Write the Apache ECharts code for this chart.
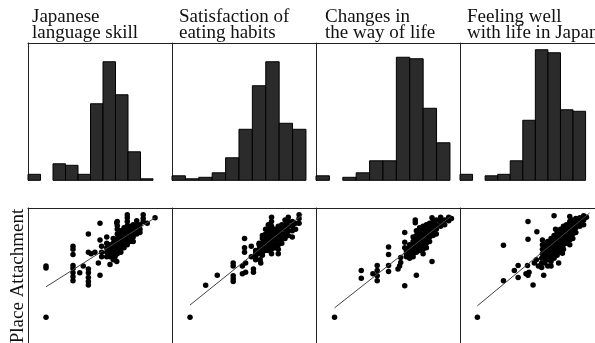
<!DOCTYPE html>
<html>
<head>
<meta charset="utf-8">
<script src="https://cdn.jsdelivr.net/npm/echarts@6/dist/echarts.min.js"></script>
<style>
html,body{margin:0;padding:0;background:#fff;}
#chart{width:595px;height:343px;}
</style>
</head>
<body>
<div id="chart"></div>
<script>
// ---- Data ----
const panelTitles = ['Japanese\nlanguage skill', 'Satisfaction of\neating habits', 'Changes in\nthe way of life', 'Feeling well\nwith life in Japan'];
const yLabel = 'Place Attachment';

// histogram counts per bin
const skillCounts = [4, 0, 11, 10, 4, 51, 79, 57, 19, 1];
const eatingCounts = [3, 1, 2, 5, 15, 34, 63, 79, 38, 34];
const changesCounts = [3, 0, 2, 5, 13, 13, 82, 81, 48, 25];
const feelingCounts = [4, 0, 3, 4, 13, 40, 87, 85, 47, 46];

// scatter: [variable score, place attachment]
const skillPoints = [
[1.0,1.0],[1.0,3.0],[1.0,2.92],
[2.0,3.77],[2.0,3.65],[2.0,3.45],[2.0,3.02],[2.0,2.9],[2.0,2.74],[2.0,2.58],[2.0,2.43],
[2.25,2.74],[2.38,3.0],
[2.57,4.25],[2.57,3.54],[2.57,2.88],[2.57,2.74],[2.57,2.55],[2.57,2.4],[2.57,2.26],
[2.67,3.48],[2.81,3.54],[2.94,3.12],
[3.0,4.67],[3.0,4.01],[3.0,2.64],
[3.06,3.77],[3.06,3.54],[3.06,3.36],
[3.25,4.13],[3.25,3.89],[3.25,3.71],[3.25,3.54],[3.25,3.36],
[3.37,3.06],[3.62,4.69],[3.62,3.18],[3.56,3.36],
[3.37,3.83],[3.37,3.71],[3.37,3.6],[3.37,3.48],[3.37,3.36],
[3.49,4.07],[3.49,3.89],[3.49,3.77],[3.49,3.65],[3.49,3.54],[3.49,3.36],[3.49,3.24],
[3.64,4.73],[3.64,4.57],[3.64,4.43],[3.64,4.25],[3.64,4.07],[3.64,3.95],[3.64,3.83],[3.64,3.71],[3.64,3.6],[3.64,3.48],
[3.77,4.37],[3.77,4.19],[3.77,4.07],[3.77,3.95],[3.77,3.83],[3.77,3.65],[3.77,3.54],
[3.89,4.49],[3.89,4.37],[3.89,4.25],[3.89,4.13],[3.89,4.01],[3.89,3.83],[3.89,3.71],
[4.01,5.0],[4.01,4.88],[4.01,4.73],[4.01,4.57],[4.01,4.43],[4.01,4.31],[4.01,4.19],[4.01,4.07],[4.01,3.95],[4.01,3.83],
[4.11,4.55],[4.11,4.37],[4.11,4.25],[4.11,4.13],[4.11,3.95],
[4.23,4.61],[4.23,4.49],[4.23,4.31],[4.23,4.13],[4.23,3.95],
[4.36,4.76],[4.36,4.61],[4.36,4.43],[4.36,4.25],
[4.48,4.61],[4.48,4.43],[4.48,4.31],
[4.6,5.0],[4.6,4.85],[4.6,4.73],
[4.75,4.67],[5.04,4.88]
];
const eatingPoints = [
[1.0,1.0],[1.58,2.25],[2.01,2.64],
[2.6,3.12],[2.6,3.0],[2.6,2.62],[2.6,2.5],[2.6,2.4],
[2.94,3.0],[2.94,2.7],
[3.02,4.07],[3.02,3.71],[3.02,3.54],
[3.06,3.12],[3.06,2.76],
[3.27,3.77],[3.27,3.36],
[3.35,2.76],[3.35,2.88],
[3.56,3.89],[3.62,3.12],[3.6,3.24],
[3.43,3.6],[3.43,3.48],[3.43,3.36],[3.43,3.24],
[3.56,3.83],[3.56,3.65],[3.56,3.48],
[3.68,4.19],[3.68,4.07],[3.68,3.89],[3.68,3.71],[3.68,3.54],[3.68,3.42],
[3.8,4.43],[3.8,4.25],[3.8,4.07],[3.8,3.95],[3.8,3.77],[3.8,3.6],
[3.9,4.61],[3.9,4.49],[3.9,4.31],[3.9,4.13],[3.9,3.95],[3.9,3.77],[3.9,3.6],
[4.02,4.9],[4.02,4.73],[4.02,4.55],[4.02,4.37],[4.02,4.19],[4.02,4.01],[4.02,3.83],[4.02,3.65],[4.02,3.48],
[4.15,4.43],[4.15,4.25],[4.15,4.07],[4.15,3.89],[4.15,3.71],
[4.27,4.55],[4.27,4.37],[4.27,4.19],[4.27,4.01],[4.27,3.83],[4.27,3.65],[4.27,3.48],
[4.4,4.61],[4.4,4.43],[4.4,4.25],[4.4,4.07],[4.4,3.89],
[4.52,4.79],[4.52,4.61],[4.52,4.43],[4.52,4.25],[4.52,4.07],
[4.64,4.9],[4.64,4.73],[4.64,4.55],[4.64,4.37],[4.64,4.19],
[4.79,4.73],[4.79,4.55],[4.79,4.37],[4.79,4.13],
[4.91,4.67],[4.91,4.43],
[5.04,5.0],[5.04,4.85],[5.04,4.67]
];
const changesPoints = [
[1.02,1.0],
[2.01,2.82],[2.01,2.52],[2.44,2.7],
[2.6,3.02],[2.6,2.82],[2.6,2.62],[2.6,2.43],
[3.02,3.74],[3.02,3.45],[3.02,3.02],[3.02,2.79],
[3.37,2.88],[3.43,3.0],[3.47,3.33],[3.47,3.14],
[3.62,4.31],[3.62,3.93],[3.62,3.71],[3.62,2.23],
[4.05,2.64],[4.01,4.79],[4.01,4.69],[4.63,4.88],[4.63,3.18],
[3.68,3.6],[3.68,3.48],[3.68,3.36],
[3.8,3.83],[3.8,3.71],[3.8,3.6],[3.8,3.48],[3.8,3.3],
[3.93,4.13],[3.93,3.95],[3.93,3.83],[3.93,3.71],[3.93,3.6],[3.93,3.48],[3.93,3.36],
[4.05,4.37],[4.05,4.19],[4.05,4.07],[4.05,3.89],[4.05,3.71],[4.05,3.54],
[4.17,4.49],[4.17,4.31],[4.17,4.13],[4.17,3.95],[4.17,3.77],[4.17,3.6],
[4.3,4.55],[4.3,4.37],[4.3,4.19],[4.3,4.01],[4.3,3.83],[4.3,3.65],[4.3,3.48],
[4.42,4.61],[4.42,4.43],[4.42,4.25],[4.42,4.07],[4.42,3.89],[4.42,3.71],
[4.54,4.67],[4.54,4.49],[4.54,4.31],[4.54,4.13],[4.54,3.95],
[4.67,4.73],[4.67,4.55],[4.67,4.37],[4.67,4.19],
[4.79,4.79],[4.79,4.61],[4.79,4.43],[4.79,4.25],
[4.95,4.9],[4.95,4.73],[4.95,4.55],
[5.1,4.79],[5.1,4.61],
[5.25,4.9],[5.25,4.76],[5.35,4.85]
];
const feelingPoints = [
[1.02,1.0],[2.05,3.81],[2.05,2.43],
[2.48,2.82],[2.63,3.02],[2.63,2.55],
[3.02,4.73],[3.02,4.04],
[3.0,3.02],[2.94,2.7],[3.06,2.76],[3.02,2.64],
[3.22,2.26],[3.37,4.33],
[3.27,3.12],[3.43,3.0],[3.35,3.24],
[3.64,2.64],[4.05,4.96],[4.11,4.43],[4.23,3.12],[4.38,3.5],[4.67,4.93],
[3.59,4.01],[3.59,3.83],[3.59,3.65],[3.59,3.48],
[3.56,3.3],[3.56,3.12],[3.56,2.94],
[3.68,3.83],[3.68,3.65],[3.68,3.48],[3.68,3.3],[3.68,3.12],
[3.8,3.95],[3.8,3.77],[3.8,3.6],[3.8,3.42],[3.8,3.24],[3.8,3.0],
[3.93,4.07],[3.93,3.89],[3.93,3.71],[3.93,3.54],[3.93,3.36],[3.93,3.18],[3.93,3.0],
[4.05,4.19],[4.05,4.01],[4.05,3.83],[4.05,3.65],[4.05,3.48],[4.05,3.3],
[4.17,4.31],[4.17,4.13],[4.17,3.95],[4.17,3.77],[4.17,3.6],[4.17,3.42],
[4.3,4.43],[4.3,4.25],[4.3,4.07],[4.3,3.89],[4.3,3.71],[4.3,3.54],
[4.42,4.55],[4.42,4.37],[4.42,4.19],[4.42,4.01],[4.42,3.83],[4.42,3.65],
[4.54,4.61],[4.54,4.43],[4.54,4.25],[4.54,4.07],[4.54,3.89],
[4.67,4.73],[4.67,4.55],[4.67,4.37],[4.67,4.19],[4.67,4.01],[4.67,3.83],
[4.79,4.79],[4.79,4.61],[4.79,4.43],[4.79,4.25],[4.79,4.07],
[4.91,4.85],[4.91,4.67],[4.91,4.49],[4.91,4.31],
[5.07,4.88],[5.07,4.73],[5.07,4.55],
[5.22,4.96],[5.22,4.79],[5.22,4.61],
[5.33,4.9]
];

// fitted regression lines (start, end)
const skillFit = [[1.0, 2.19], [5.04, 4.88]];
const eatingFit = [[1.0, 1.48], [5.16, 5.0]];
const changesFit = [[1.02, 1.37], [5.32, 4.93]];
const feelingFit = [[1.02, 1.45], [5.45, 5.06]];

// ---- Chart ----
const histCounts = [skillCounts, eatingCounts, changesCounts, feelingCounts];
const scatterPoints = [skillPoints, eatingPoints, changesPoints, feelingPoints];
const fits = [skillFit, eatingFit, changesFit, feelingFit];

const FONT = '"Liberation Serif", "Times New Roman", serif';
const LINE = '#222';
const panelLeft = [28, 172, 316, 460];
const panelW = 144;
const histXMax = [11.52, 10.75, 10.75, 10.75];
const titleLeft = [32, 179, 325, 467];

const grids = [], xAxes = [], yAxes = [], series = [];

function axisX(gi, min, max) {
  return { type: 'value', gridIndex: gi, min: min, max: max, position: 'top',
    axisLine: { show: true, onZero: false, lineStyle: { color: LINE, width: 1 } },
    axisTick: { show: false }, axisLabel: { show: false }, splitLine: { show: false } };
}
function axisY(gi, min, max) {
  return { type: 'value', gridIndex: gi, min: min, max: max, position: 'left',
    axisLine: { show: true, onZero: false, lineStyle: { color: LINE, width: 1 } },
    axisTick: { show: false }, axisLabel: { show: false }, splitLine: { show: false } };
}

for (let i = 0; i < 4; i++) {
  // histogram
  grids.push({ left: panelLeft[i], top: 43, width: panelW, height: 137.3 });
  xAxes.push(axisX(i, 0, histXMax[i]));
  yAxes.push(axisY(i, 0, 91.5));
  series.push({
    type: 'custom', xAxisIndex: i, yAxisIndex: i,
    data: histCounts[i].map((c, k) => [k, k + 1, c]),
    renderItem: function (params, api) {
      const h = api.value(2);
      if (!h) return null;
      const p0 = api.coord([api.value(0), 0]);
      const p1 = api.coord([api.value(1), h]);
      return { type: 'rect',
        shape: { x: p0[0], y: p1[1], width: p1[0] - p0[0], height: p0[1] - p1[1] },
        style: { fill: '#2b2b2b', stroke: '#000', lineWidth: 1 } };
    },
    silent: true, animation: false
  });
}
for (let i = 0; i < 4; i++) {
  const gi = 4 + i;
  grids.push({ left: panelLeft[i], top: 208, width: panelW, height: 147.3 });
  xAxes.push(axisX(gi, 0.333, 5.667));
  yAxes.push(axisY(gi, 0, 5.26));
  series.push({
    type: 'scatter', xAxisIndex: gi, yAxisIndex: gi, data: scatterPoints[i],
    symbol: 'circle', symbolSize: 5.5, itemStyle: { color: '#000', opacity: 1 }, silent: true, animation: false
  });
  series.push({
    type: 'line', xAxisIndex: gi, yAxisIndex: gi, data: fits[i], symbol: 'none',
    lineStyle: { color: '#444', width: 1 }, silent: true, animation: false
  });
}

const chart = echarts.init(document.getElementById('chart'), null, { renderer: 'canvas' });
chart.setOption({
  backgroundColor: '#fff',
  animation: false,
  title: panelTitles.map((t, i) => ({
    text: t, left: titleLeft[i], top: 9, padding: 0,
    textStyle: { fontFamily: FONT, fontSize: 19, fontWeight: 'normal', color: '#111', lineHeight: 16 }
  })),
  grid: grids, xAxis: xAxes, yAxis: yAxes, series: series,
  graphic: [{
    type: 'text', x: 18, y: 276, rotation: Math.PI / 2,
    style: { text: yLabel, font: '19px ' + FONT, fill: '#111', textAlign: 'center', textVerticalAlign: 'middle' }
  }]
});
</script>
</body>
</html>
